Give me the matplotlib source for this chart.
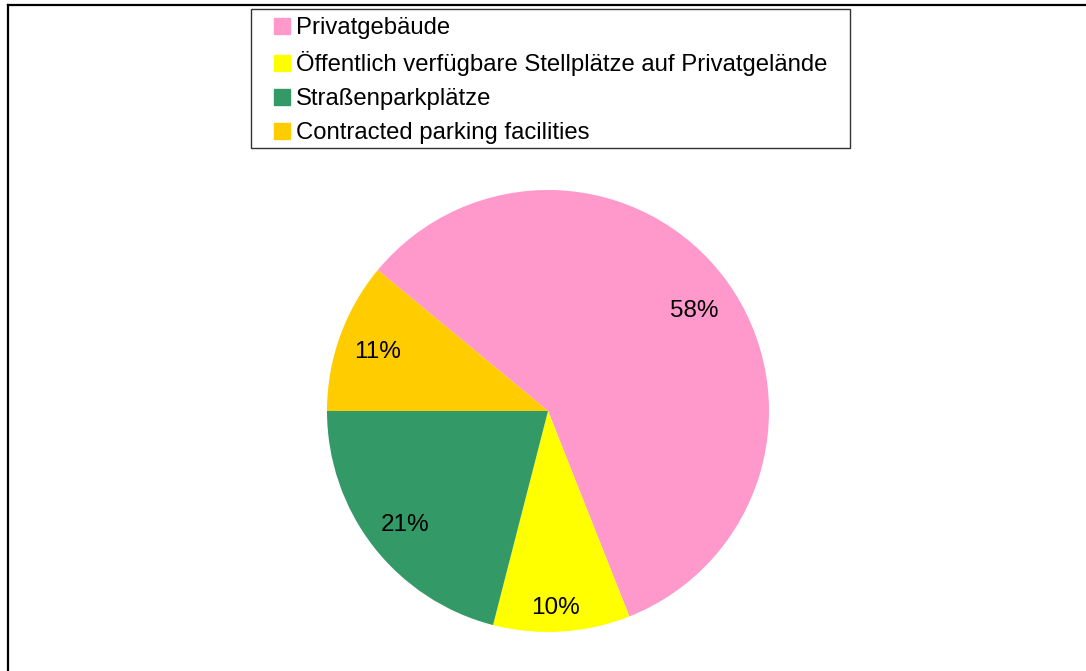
import matplotlib
matplotlib.use("Agg")
import matplotlib.pyplot as plt
from matplotlib.lines import Line2D
from matplotlib.patches import Rectangle
import numpy as np

plt.rcParams['font.family'] = ['Liberation Sans', 'DejaVu Sans']

categories = ["Privatgebäude",
              "Öffentlich verfügbare Stellplätze auf Privatgelände",
              "Straßenparkplätze",
              "Contracted parking facilities"]
values = [58, 10, 21, 11]
colors = ["#FF99CC", "#FFFF00", "#339966", "#FFCC00"]

W, H = 1086, 671
fig = plt.figure(figsize=(W / 100, H / 100), dpi=100)

cx, cy, r = 548, 411, 221
ax = fig.add_axes([(cx - r) / W, (H - cy - r) / H, 2 * r / W, 2 * r / H])
wedges, texts, autotexts = ax.pie(values, colors=colors, startangle=180 - 360 * values[-1] / 100,
                                  counterclock=False, autopct='%d%%', pctdistance=0.82,
                                  radius=1, textprops=dict(fontsize=17.5, color='black'))
ax.set_xlim(-1, 1)
ax.set_ylim(-1, 1)
ax.set_aspect('equal')
ax.axis('off')
for t in autotexts:
    t.set_va('center_baseline')
# Yellow label sits a little further out
w = wedges[1]
ang = np.deg2rad((w.theta1 + w.theta2) / 2 - 1.3)
autotexts[1].set_position((0.88 * np.cos(ang), 0.88 * np.sin(ang)))
w = wedges[0]
ang = np.deg2rad((w.theta1 + w.theta2) / 2 - 0.9)
autotexts[0].set_position((0.81 * np.cos(ang), 0.81 * np.sin(ang)))

fs = 17.2
handles = [Line2D([], [], marker='s', linestyle='none', markersize=11.5,
                  markerfacecolor=c, markeredgecolor=c) for c in colors]
leg = fig.legend(handles, categories, loc='upper left',
                 bbox_to_anchor=(250 / W, 1 - 8 / H), borderaxespad=0,
                 frameon=False, fontsize=fs,
                 handlelength=1.9, handletextpad=-0.36, labelspacing=0.5,
                 borderpad=0.38)
fig.add_artist(Rectangle((250.5 / W, 1 - 147.5 / H), 599 / W, 139 / H,
                         transform=fig.transFigure, fill=False,
                         edgecolor='#333333', linewidth=1.0))

# outer frame (left and top edges visible)
fig.add_artist(Line2D([7.5 / W, 7.5 / W], [0, 1 - 5 / H], transform=fig.transFigure,
                      color='black', linewidth=1.6))
fig.add_artist(Line2D([7.5 / W, 1], [1 - 5 / H, 1 - 5 / H], transform=fig.transFigure,
                      color='black', linewidth=1.6))

fig.savefig("out.png", dpi=100)
